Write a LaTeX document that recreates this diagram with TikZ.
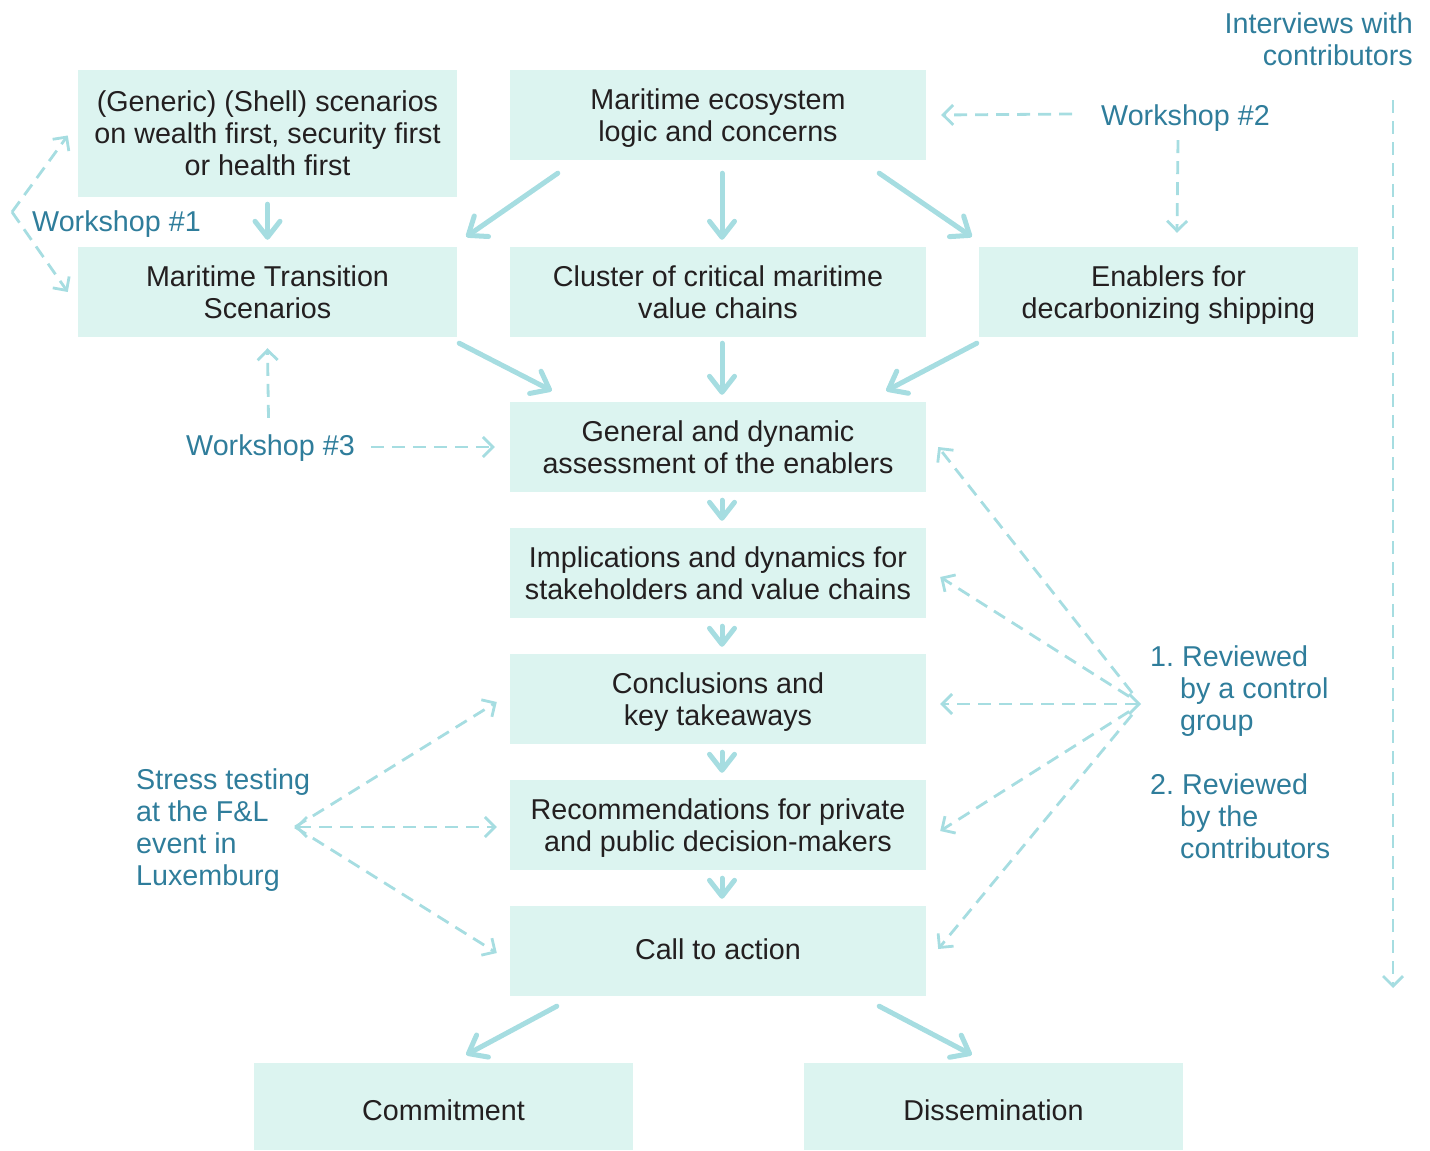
\documentclass[tikz,border=0pt]{standalone}
\usepackage{fontspec}
\setmainfont{Liberation Sans}
\usetikzlibrary{arrows.meta,calc}
\definecolor{boxfill}{RGB}{220,244,240}
\definecolor{arr}{RGB}{166,221,225}
\definecolor{lab}{RGB}{47,125,155}
\definecolor{txt}{RGB}{35,31,32}
\newcommand\tl{\rule{0pt}{28pt}}
\newcommand\bl{\rule[-8pt]{0pt}{8pt}}
\begin{document}
\begin{tikzpicture}[x=1pt,y=-1pt,
  box/.style={fill=boxfill, text=txt, inner sep=0pt, align=center, font=\fontsize{28.7}{32}\selectfont},
  bw/.style={minimum width=416pt, minimum height=90pt},
  bn/.style={minimum width=379pt, minimum height=90pt},
  lbl/.style={text=lab, inner sep=0pt, font=\fontsize{28.7}{32}\selectfont},
  big/.style={draw=arr, line width=5pt, line cap=round, line join=round, -{Straight Barb[length=16pt,width=25pt,line cap=round,line join=round]}},
  dsh/.style={draw=arr, line width=2.8pt, dash pattern=on 13pt off 8pt, -{Straight Barb[length=10pt,width=20pt]}},
  dshb/.style={dsh, {Straight Barb[length=10pt,width=20pt]}-{Straight Barb[length=10pt,width=20pt]}},
]
\useasboundingbox (0,0) rectangle (1430,1151);
% boxes
\node[box, minimum width=379pt, minimum height=127pt] (gen) at (267.5,133.5) {\tl(Generic) (Shell) scenarios\\on wealth first, security first\\or health first\bl};
\node[box, bw] (eco) at (718,115) {\tl Maritime ecosystem\\logic and concerns\bl};
\node[box, bn] (mts) at (267.5,292) {\tl Maritime Transition\\Scenarios\bl};
\node[box, bw] (clu) at (718,292) {\tl Cluster of critical maritime\\value chains\bl};
\node[box, bn] (ena) at (1168.5,292) {\tl Enablers for\\decarbonizing shipping\bl};
\node[box, bw] (gas) at (718,447) {\tl General and dynamic\\assessment of the enablers\bl};
\node[box, bw] (imp) at (718,573) {\tl Implications and dynamics for\\stakeholders and value chains\bl};
\node[box, bw] (con) at (718,699) {\tl Conclusions and\\key takeaways\bl};
\node[box, bw] (rec) at (718,825) {\tl Recommendations for private\\and public decision-makers\bl};
\node[box, bw] (cta) at (718,951) {\rule{0pt}{24pt}Call to action\bl};
\node[box, minimum width=379pt, minimum height=87pt] (com) at (443.5,1106.5) {\rule{0pt}{35pt}Commitment\bl};
\node[box, minimum width=379pt, minimum height=87pt] (dis) at (993.5,1106.5) {\rule{0pt}{35pt}Dissemination\bl};
% labels
\node[lbl, anchor=west] (w1) at (32,221) {\tl Workshop \#1\bl};
\node[lbl, anchor=west] (w2) at (1101,115) {\tl Workshop \#2\bl};
\node[lbl, anchor=west] (w3) at (186,445) {\tl Workshop \#3\bl};
\node[lbl, anchor=east, align=right] (iv) at (1413,39) {\tl Interviews with\\contributors\bl};
\node[lbl, anchor=west, align=left] (rev) at (1150,752) {\tl 1.~Reviewed\\\hspace*{30pt}by a control\\\hspace*{30pt}group\\[32pt]2.~Reviewed\\\hspace*{30pt}by the\\\hspace*{30pt}contributors\bl};
\node[lbl, anchor=west, align=left] (st) at (136,827) {\tl Stress testing\\at the F\&L\\event in\\Luxemburg\bl};
% free ends
\coordinate (v1) at (12,212);
\coordinate (rv) at (1141,704);
\coordinate (sv) at (295,827);
\coordinate (ivtop) at (1393,100);
\coordinate (ivbot) at (1393,988);
% solid arrows
\draw[big] ($(eco.south west)+(48,13)$) -- ($(mts.north east)+(9,-10)$);
\draw[big] ($(eco.south)+(4,13)$) -- ($(clu.north)+(4,-7)$);
\draw[big] ($(eco.south east)+(-47,13)$) -- ($(ena.north west)+(-7,-10)$);
\draw[big] ($(gen.south)+(0,7)$) -- ($(mts.north)+(0,-7)$);
\draw[big] ($(mts.south east)+(2,6)$) -- ($(gas.north west)+(42,-11)$);
\draw[big] ($(clu.south)+(4,6)$) -- ($(gas.north)+(4,-7)$);
\draw[big] ($(ena.south west)+(-2,6)$) -- ($(gas.north east)+(-40,-11)$);
\draw[big] ($(gas.south)+(4,8)$) -- ($(imp.north)+(4,-7)$);
\draw[big] ($(imp.south)+(4,8)$) -- ($(con.north)+(4,-7)$);
\draw[big] ($(con.south)+(4,8)$) -- ($(rec.north)+(4,-7)$);
\draw[big] ($(rec.south)+(4,8)$) -- ($(cta.north)+(4,-7)$);
\draw[big] ($(cta.south west)+(47,10)$) -- ($(com.north east)+(-167,-8)$);
\draw[big] ($(cta.south east)+(-47,10)$) -- ($(dis.north west)+(168,-8)$);
% dashed arrows
\draw[dsh] (v1) -- ($(gen.west)+(-10,2)$);
\draw[dsh] (v1) -- ($(mts.west)+(-10,0)$);
\draw[dsh] ($(w2.west)+(-29,-1)$) -- ($(eco.east)+(15,0)$);
\draw[dsh] ($(w2.south)+(-7.5,7)$) -- ($(ena.north)+(8.5,-14)$);
\draw[dsh] ($(w3.north)+(-2,-9)$) -- ($(mts.south)+(0,11)$);
\draw[dsh] ($(w3.east)+(16,2)$) -- ($(gas.west)+(-15,0)$);
\draw[dsh] (ivtop) -- (ivbot);
\draw[dsh, shorten <=14pt] (rv) -- ($(gas.east)+(12,0)$);
\draw[dsh, shorten <=14pt] (rv) -- ($(imp.east)+(14,4)$);
\draw[dshb] (rv) -- ($(con.east)+(14,5)$);
\draw[dsh, shorten <=14pt] (rv) -- ($(rec.east)+(14,6)$);
\draw[dsh, shorten <=14pt] (rv) -- ($(cta.east)+(12,-2)$);
\draw[dsh] (sv) -- ($(con.west)+(-13,3)$);
\draw[dshb] (sv) -- ($(rec.west)+(-13,2)$);
\draw[dsh] (sv) -- ($(cta.west)+(-13,2)$);
\end{tikzpicture}
\end{document}
